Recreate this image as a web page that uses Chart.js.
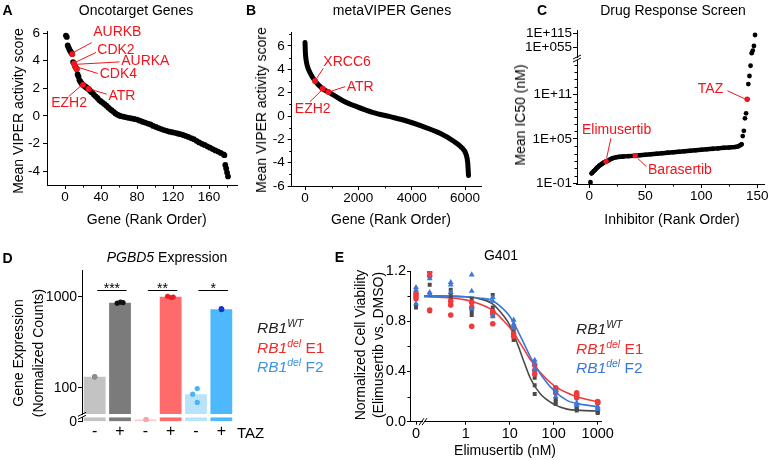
<!DOCTYPE html>
<html><head><meta charset="utf-8">
<script src="https://cdn.jsdelivr.net/npm/chart.js"></script>
<style>
html,body{margin:0;padding:0;background:#fff;}
#wrap{position:relative;width:768px;height:460px;overflow:hidden;font-family:'Liberation Sans',Arial,sans-serif;color:#000;background:#fff;}
canvas{position:absolute;left:0;top:0;}
.t{position:absolute;white-space:nowrap;font-size:14px;line-height:1;}
.c{transform:translate(-50%,-50%);}
.v{transform:translate(-50%,-50%) rotate(-90deg);}
.p{font-weight:bold;font-size:14px;}
.leg{position:absolute;font-size:15.5px;line-height:1;white-space:nowrap;}
.leg sup{font-size:10.5px;vertical-align:0;position:relative;top:-6px;}
</style></head><body><div id="wrap">
<canvas id="cA" width="768" height="460"></canvas>
<canvas id="cB" width="768" height="460"></canvas>
<canvas id="cC" width="768" height="460"></canvas>
<canvas id="cD" width="768" height="460"></canvas>
<canvas id="cE" width="768" height="460"></canvas>

<div class="t c p" style="left:7.5px;top:10px">A</div>
<div class="t c p" style="left:251px;top:10px">B</div>
<div class="t c p" style="left:542px;top:10px">C</div>
<div class="t c p" style="left:7.5px;top:258px">D</div>
<div class="t c p" style="left:339.5px;top:257px">E</div>

<div class="t c" style="left:136px;top:9.5px">Oncotarget Genes</div>
<div class="t c" style="left:392px;top:9.5px">metaVIPER Genes</div>
<div class="t c" style="left:673px;top:9.5px">Drug Response Screen</div>
<div class="t c" style="left:167px;top:257px"><i>PGBD5</i> Expression</div>
<div class="t c" style="left:501px;top:255px">G401</div>

<div class="t c" style="left:146.7px;top:219px">Gene (Rank Order)</div>
<div class="t c" style="left:391px;top:219px">Gene (Rank Order)</div>
<div class="t c" style="left:672px;top:219px">Inhibitor (Rank Order)</div>
<div class="t c" style="left:505px;top:450px">Elimusertib (nM)</div>
<div class="t c" style="left:250.5px;top:432px;font-size:15px">TAZ</div>

<div class="t v" style="left:18.3px;top:111px">Mean VIPER activity score</div>
<div class="t v" style="left:261px;top:110px">Mean VIPER activity score</div>
<div class="t v" style="left:520px;top:115px">Mean IC50 (nM)</div>
<div class="t v" style="left:18.3px;top:353px">Gene Expression</div>
<div class="t v" style="left:38.3px;top:353px">(Normalized Counts)</div>
<div class="t v" style="left:360px;top:345px">Normalized Cell Viability</div>
<div class="t v" style="left:378.3px;top:345px">(Elimusertib vs. DMSO)</div>

<div class="leg" style="left:257px;top:320px;color:#222"><i>RB1</i><sup><i>WT</i></sup></div>
<div class="leg" style="left:257px;top:340px;color:#ee2b2b"><i>RB1</i><sup><i>del</i></sup> E1</div>
<div class="leg" style="left:257px;top:359px;color:#3a95e4"><i>RB1</i><sup><i>del</i></sup> F2</div>

<div class="leg" style="left:576px;top:321px;color:#222"><i>RB1</i><sup><i>WT</i></sup></div>
<div class="leg" style="left:576px;top:341px;color:#ee2b2b"><i>RB1</i><sup><i>del</i></sup> E1</div>
<div class="leg" style="left:576px;top:360px;color:#3b78d8"><i>RB1</i><sup><i>del</i></sup> F2</div>
</div>
<script>
// ================= DATA =================
// Panel A: Oncotarget genes, [rank, mean VIPER score]
const aPoints = [[1,5.82],[2,5.72],[3,5.1],[4,4.95],[5,4.8],[6,4.68],[7,4.58],[8,4.48],[9,3.9],[10,3.8],[11,3.62],[12,3.5],[13,3.4],[14,3.0],[15,2.85],[16,2.6],[17,2.5],[18,2.4],[19,2.3],[20,2.25],[21,2.2],[22,2.15],[23,2.1],[24,2.05],[25,2.0],[26,1.95],[27,1.9],[28,1.82],[29,1.76],[30,1.7],[32,1.55],[34,1.42],[36,1.3],[38,1.15],[40,1.05],[42,0.95],[44,0.85],[46,0.74],[48,0.62],[50,0.5],[52,0.4],[54,0.3],[56,0.18],[58,0.1],[60,0.04],[62,-0.02],[65,-0.06],[68,-0.1],[71,-0.14],[74,-0.18],[77,-0.22],[80,-0.26],[83,-0.34],[86,-0.42],[89,-0.48],[92,-0.55],[95,-0.62],[98,-0.72],[101,-0.8],[104,-0.88],[107,-0.95],[110,-1.02],[113,-1.08],[116,-1.14],[119,-1.18],[122,-1.22],[125,-1.27],[128,-1.32],[131,-1.38],[134,-1.45],[137,-1.52],[140,-1.6],[143,-1.68],[146,-1.8],[149,-1.92],[152,-2.02],[155,-2.1],[158,-2.2],[161,-2.3],[164,-2.4],[167,-2.5],[170,-2.58],[173,-2.68],[176,-2.78],[177,-2.84],[178,-3.55],[179,-3.8],[180,-4.1],[181,-4.38]];
const aHighlight = ['AURKB','CDK2','AURKA','CDK4','EZH2','ATR'];
const aHighlightRank = [8,10,11,13,20,26];
const aHighlightScore = [4.48,3.8,3.62,3.4,2.25,1.95];
const aXTicks = [0,40,80,120,160];
const aYTicks = [-4,-2,0,2,4,6];

// Panel B: metaVIPER genes, [rank, mean VIPER score]
const bPoints = [[0,6.3],[10,5.6],[20,5.2],[40,4.8],[87,4.28],[187,3.71],[375,3.0],[662,2.34],[875,2.06],[1437,1.29],[1937,0.8],[2562,0.29],[3187,-0.06],[3812,-0.43],[4437,-0.91],[5062,-1.48],[5562,-2.14],[5875,-2.71],[6037,-3.28],[6100,-4.0],[6125,-4.9],[6130,-5.1]];
const bHighlight = ['XRCC6','EZH2','ATR'];
const bHighlightRank = [375,662,875];
const bHighlightScore = [3.0,2.34,2.06];
const bXTicks = [0,2000,4000,6000];
const bYTicks = [-6,-4,-2,0,2,4,6];

// Panel C: drug response screen, [rank, mean IC50 nM]
const cBand = [[2,2.2],[3,3],[4,4.5],[5,6],[6,9],[7,13],[8,17],[9,25],[10,30],[11,40],[12,50],[13,65],[14,75],[15,85],[17,120],[19,180],[21,250],[24,320],[27,370],[30,400],[35,460],[41,530],[45,600],[50,700],[55,820],[60,980],[65,1150],[70,1350],[75,1550],[80,1800],[85,2100],[90,2450],[95,2850],[100,3300],[105,3800],[110,4400],[115,5100],[120,6000],[125,6800],[130,8000],[133,9500],[135,14000],[136,18000]];
const cOutliers = [[1,0.14],[137,2.3e5],[138,1.2e6],[139,5.8e7],[140,2.7e8],[141,2.1e10],[142,2.4e12],[143,2.9e13],[144,7e14],[145,1e32],[146,1e43],[147,1e62],[148,1e108]];
const cHighlight = ['Elimusertib','Barasertib','TAZ'];
const cHighlightRank = [15,41,141];
const cHighlightIC50 = [85,530,2.1e10];
const cXTicks = [0,50,100,150];
const cLoTicks = [1e-1,1e5,1e11];
const cLoLabels = ['1E-01','1E+05','1E+11'];
const cHiTicks = [1e55,1e115];
const cHiLabels = ['1E+055','1E+115'];
const cLoMinor = [1,10,100,1e3,1e4,1e6,1e7,1e8,1e9,1e10,1e12,1e13,1e14,1e15];

// Panel D: PGBD5 expression
const dLabels = ['-','+','-','+','-','+'];
const dMeans = [132,860,5,1000,85,727];
const dReps = [[133,131,132],[850,872,862],[5,5,5],[1012,978,990],[98,85,69],[738,722,728]];
const dSig = ['***','**','*'];
const dHiTicks = [100,1000];

// Panel E: G401 viability vs elimusertib (nM); index 0 = DMSO (0 nM)
const eDoses = [0,0.152,0.457,1.37,4.12,12.3,37,111,333,1000];
const eWT = [[1.03,0.93,0.91],[1.09,1.01,0.88],[1.05,1.02,0.99],[0.98,0.88,0.85],[1.01,0.91,0.84],[0.72,0.70,0.65],[0.35,0.29,0.22],[0.18,0.16,0.14],[0.11,0.10,0.09],[0.09,0.08,0.07]];
const eE1 = [[1.02,1.0,0.98],[1.19,1.16,0.89],[0.96,0.93,0.85],[0.95,0.91,0.76],[0.88,0.86,0.78],[0.75,0.70,0.68],[0.45,0.41,0.38],[0.27,0.25,0.23],[0.23,0.21,0.19],[0.16,0.15,0.15]];
const eF2 = [[1.07,1.05,0.94],[1.14,1.03,1.01],[1.11,1.09,1.03],[1.17,1.04,0.90],[0.99,0.96,0.84],[0.81,0.78,0.75],[0.49,0.47,0.42],[0.25,0.23,0.20],[0.15,0.14,0.13],[0.12,0.11,0.10]];
const eFitDoses = [0.113,0.3,1,2,4,7,10,15,20,30,50,100,200,400,1000];
const eFitWT = [1.0,1.0,0.995,0.98,0.94,0.85,0.77,0.62,0.50,0.34,0.22,0.14,0.10,0.09,0.085];
const eFitE1 = [0.995,0.99,0.97,0.94,0.89,0.81,0.75,0.66,0.59,0.49,0.39,0.29,0.23,0.19,0.16];
const eFitF2 = [1.0,1.0,0.995,0.985,0.965,0.90,0.84,0.73,0.64,0.51,0.38,0.25,0.17,0.14,0.12];
const eXTicks = [1,10,100,1000];
const eYTicks = [0,0.4,0.8,1.2];
const eYLabels = ['0.0','0.4','0.8','1.2'];

// ================= STYLE / LAYOUT =================
const RED = '#f2141c';
const W = 768, H = 460;
Chart.defaults.font.family = "'Liberation Sans', Arial, Helvetica, sans-serif";
Chart.defaults.font.size = 13.5;
Chart.defaults.color = '#000';
Chart.defaults.animation = false;
Chart.defaults.responsive = false;
Chart.defaults.events = [];
Chart.defaults.plugins.legend.display = false;
Chart.defaults.plugins.tooltip.enabled = false;

function pad(L, T, R, B, yw, xh) { return {left: L - yw, top: T, right: W - R, bottom: H - B - xh}; }

function ax(o) {
  const vals = o.ticks, labs = o.labels;
  const cfg = {
    type: o.type || 'linear', position: o.pos, min: o.min, max: o.max, bounds: 'data', offset: false,
    display: !o.hidden,
    border: {display: o.border !== false, color: '#000', width: 1},
    grid: {display: true, drawOnChartArea: false, drawTicks: o.tl !== 0, tickLength: o.tl || 0, color: '#000', tickColor: '#000', tickWidth: 1, offset: false},
    ticks: {autoSkip: false, maxRotation: 0, minRotation: 0, padding: o.pad || 0, color: '#000',
      font: {size: o.fs || 13.5}, callback: function (v, i) { return labs ? labs[i] : String(v); }},
    afterBuildTicks: s => { if (vals) s.ticks = vals.map(v => ({value: v})); },
    afterFit: s => {
      if (o.size != null) { if (s.isHorizontal()) s.height = o.size; else s.width = o.size; }
      s.paddingLeft = s.paddingRight = s.paddingTop = s.paddingBottom = 0;
    }
  };
  if (o.type === 'category') { delete cfg.min; delete cfg.max; cfg.grid.display = false; cfg.offset = true; }
  if (o.stack) { cfg.stack = o.stack; cfg.stackWeight = o.sw; cfg.weight = o.w; }
  return cfg;
}

const axisClip = {
  id: 'axisClip',
  beforeDatasetDraw(chart, args) {
    const ds = chart.data.datasets[args.index];
    if (ds.axisClip == null) return;
    const m = args.meta, p = ds.axisClip, ctx = chart.ctx;
    ctx.save(); ctx.beginPath();
    ctx.rect(m.xScale.left - p, m.yScale.top - p, m.xScale.right - m.xScale.left + 2 * p, m.yScale.bottom - m.yScale.top + 2 * p);
    ctx.clip();
  },
  afterDatasetDraw(chart, args) {
    const ds = chart.data.datasets[args.index];
    if (ds.axisClip == null) return;
    chart.ctx.restore();
  }
};

const decor = {
  id: 'decor',
  afterDraw(chart, args, o) {
    const ctx = chart.ctx;
    ctx.save();
    ctx.lineWidth = 1; ctx.strokeStyle = '#000';
    (o.minor || []).forEach(m => {
      const s = chart.scales[m.axis]; const len = m.len || 2.5;
      m.values.forEach(v => {
        const p = Math.round(s.getPixelForValue(v)) + 0.5;
        ctx.beginPath();
        if (s.isHorizontal()) { ctx.moveTo(p, s.top); ctx.lineTo(p, s.top + len); }
        else { ctx.moveTo(s.right - len, p); ctx.lineTo(s.right, p); }
        ctx.stroke();
      });
    });
    (o.breaks || []).forEach(b => {
      const a = chart.scales[b.a], c = chart.scales[b.b];
      if (a.isHorizontal()) {
        const xm = (a.right + c.left) / 2, y = a.top;
        [-1.5, 1.5].forEach(d => { ctx.beginPath(); ctx.moveTo(xm + d - 2.5, y + 3.5); ctx.lineTo(xm + d + 2.5, y - 3.5); ctx.stroke(); });
      } else {
        const ym = (a.bottom + c.top) / 2, x = a.right;
        [-1.5, 1.5].forEach(d => { ctx.beginPath(); ctx.moveTo(x - 4, ym + d + 2); ctx.lineTo(x + 4, ym + d - 2); ctx.stroke(); });
      }
    });
    (o.notes || []).forEach(n => {
      const xs = chart.scales[n.xAxis], ys = chart.scales[n.yAxis];
      const px = xs.getPixelForValue(n.at[0]), py = ys.getPixelForValue(n.at[1]);
      ctx.strokeStyle = RED; ctx.fillStyle = RED;
      ctx.beginPath(); ctx.moveTo(px + n.l1[0], py + n.l1[1]); ctx.lineTo(px + n.l2[0], py + n.l2[1]); ctx.stroke();
      ctx.font = "14px 'Liberation Sans', Arial, sans-serif";
      ctx.textAlign = n.align; ctx.textBaseline = 'middle';
      ctx.fillText(n.text, px + n.t[0], py + n.t[1]);
    });
    (o.brackets || []).forEach(b => {
      const xs = chart.scales[b.xAxis], ys = chart.scales[b.yAxis];
      const x1 = xs.getPixelForValue(b.from + b.dx1), x2 = xs.getPixelForValue(b.to + b.dx2);
      const y = Math.round(ys.getPixelForValue(b.y)) + 0.5;
      ctx.strokeStyle = '#000'; ctx.fillStyle = '#000';
      ctx.beginPath(); ctx.moveTo(x1, y); ctx.lineTo(x2, y); ctx.stroke();
      ctx.font = "14px 'Liberation Sans', Arial, sans-serif";
      ctx.textAlign = 'center'; ctx.textBaseline = 'alphabetic';
      ctx.fillText(b.text, (x1 + x2) / 2, y + 2);
    });
    ctx.restore();
  }
};

function notes(names, xs, ys, offs, xAxis, yAxis) {
  return names.map((t, i) => Object.assign({text: t, at: [xs[i], ys[i]], xAxis, yAxis}, offs[i]));
}
const pts = arr => arr.map(p => ({x: p[0], y: p[1]}));

// ---------------- Panel A ----------------
new Chart(document.getElementById('cA'), {
  type: 'scatter',
  data: {datasets: [
    {data: aHighlightRank.map((r, i) => ({x: r, y: aHighlightScore[i]})), pointRadius: 2.9, pointBackgroundColor: RED, pointBorderWidth: 0},
    {data: pts(aPoints), pointRadius: 2.9, pointBackgroundColor: '#000', pointBorderWidth: 0}
  ]},
  options: {
    layout: {padding: pad(47, 31, 237, 185, 40, 25)},
    scales: {
      x: ax({pos: 'bottom', min: -20, max: 191, ticks: aXTicks, size: 25, tl: 4, pad: 0}),
      y: ax({pos: 'left', min: -5, max: 6.15, ticks: aYTicks, size: 40, tl: 4, pad: 3})
    },
    plugins: {decor: {
      minor: [{axis: 'x', values: [20, 60, 100, 140, 180]}],
      notes: notes(aHighlight, aHighlightRank, aHighlightScore, [
        {l1: [1, -1.5], l2: [19.5, -11.5], t: [21, -21.5], align: 'left'},
        {l1: [2, -1.5], l2: [22, -11], t: [23.3, -13.6], align: 'left'},
        {l1: [2.3, -1.7], l2: [44.6, -4], t: [46.3, -5], align: 'left'},
        {l1: [2, -1.5], l2: [21, 4.5], t: [23, 5.2], align: 'left'},
        {l1: [-2, 1], l2: [-14.4, 11.7], t: [-14, 18.4], align: 'center'},
        {l1: [1.6, 0.2], l2: [18.3, 5.2], t: [20, 7.5], align: 'left'}
      ], 'x', 'y')
    }}
  },
  plugins: [decor, axisClip]
});

// ---------------- Panel B ----------------
new Chart(document.getElementById('cB'), {
  type: 'scatter',
  data: {datasets: [
    {data: bHighlightRank.map((r, i) => ({x: r, y: bHighlightScore[i]})), pointRadius: 3, pointBackgroundColor: RED, pointBorderWidth: 0},
    {data: pts(bPoints), showLine: true, borderColor: '#000', borderWidth: 5, pointRadius: 0,
     cubicInterpolationMode: 'monotone', borderCapStyle: 'round', borderJoinStyle: 'round'}
  ]},
  options: {
    layout: {padding: pad(291.7, 32, 481.7, 186, 60, 25)},
    scales: {
      x: ax({pos: 'bottom', min: -500, max: 6625, ticks: bXTicks, size: 25, tl: 4, pad: 0}),
      y: ax({pos: 'left', min: -6, max: 7.2, ticks: bYTicks, size: 60, tl: 4, pad: 3})
    },
    plugins: {decor: {
      minor: [{axis: 'x', values: [1000, 3000, 5000]}, {axis: 'y', values: [-5, -3, -1, 1, 3, 5, 7]}],
      notes: notes(bHighlight, bHighlightRank, bHighlightScore, [
        {l1: [1.5, -2.5], l2: [8.3, -12.7], t: [8.3, -19.3], align: 'left'},
        {l1: [-1.5, 2], l2: [-12.7, 13], t: [-10, 20.6], align: 'center'},
        {l1: [2, -0.5], l2: [16.7, -5.3], t: [18.4, -5.3], align: 'left'}
      ], 'x', 'y')
    }}
  },
  plugins: [decor, axisClip]
});

// ---------------- Panel C ----------------
const C_BREAK = 1e16;
new Chart(document.getElementById('cC'), {
  type: 'scatter',
  data: {datasets: [
    {data: cHighlightRank.map((r, i) => ({x: r, y: cHighlightIC50[i]})), yAxisID: 'yLo', pointRadius: 2.7, pointBackgroundColor: RED, pointBorderWidth: 0},
    {data: pts(cOutliers.filter(p => p[1] < C_BREAK)), yAxisID: 'yLo', pointRadius: 2.4, pointBackgroundColor: '#000', pointBorderWidth: 0, axisClip: 3},
    {data: pts(cOutliers.filter(p => p[1] >= C_BREAK)), yAxisID: 'yHi', pointRadius: 2.4, pointBackgroundColor: '#000', pointBorderWidth: 0, axisClip: 3},
    {data: pts(cBand), yAxisID: 'yLo', showLine: true, borderColor: '#000', borderWidth: 4.5, pointRadius: 2.3,
     pointBackgroundColor: '#000', pointBorderWidth: 0, borderJoinStyle: 'round', borderCapStyle: 'round'}
  ]},
  options: {
    layout: {padding: pad(577, 30.5, 765, 184, 80, 25)},
    scales: {
      x: ax({pos: 'bottom', min: -11, max: 156, ticks: cXTicks, size: 25, tl: 4, pad: 0}),
      yHi: ax({type: 'logarithmic', pos: 'left', min: 1.78e16, max: 5e126, ticks: cHiTicks, labels: cHiLabels, size: 80, tl: 4, pad: 1, stack: 'c', sw: 26.5, w: 3}),
      yg: ax({pos: 'left', hidden: true, stack: 'c', sw: 3, w: 2}),
      yLo: ax({type: 'logarithmic', pos: 'left', min: 0.0805, max: 4.17e15, ticks: cLoTicks, labels: cLoLabels, size: 80, tl: 4, pad: 1, stack: 'c', sw: 124, w: 1})
    },
    plugins: {decor: {
      minor: [{axis: 'x', values: [25, 75, 125]}, {axis: 'yLo', values: cLoMinor}],
      breaks: [{a: 'yHi', b: 'yLo'}],
      notes: notes(cHighlight, cHighlightRank, cHighlightIC50, [
        {l1: [0.5, -3.6], l2: [4.8, -23.3], t: [10.5, -31.6], align: 'center'},
        {l1: [2.5, 2.8], l2: [11.2, 11], t: [12.8, 14.3], align: 'left'},
        {l1: [-2.5, -0.5], l2: [-19.8, -8.6], t: [-24, -10.3], align: 'right'}
      ], 'x', 'yLo')
    }}
  },
  plugins: [decor, axisClip]
});

// ---------------- Panel D ----------------
const dBarColors = ['#c3c3c3', '#7b7b7b', '#fbcaca', '#ff6b6b', '#b9e2fb', '#4db9fc'];
const dDotColors = ['#8c8c8c', '#111111', '#f7a6a6', '#e81f28', '#4ab4f2', '#1436c8'];
const dJitter = [[0, 0, 0], [-0.11, 0.02, 0.12], [0.03, 0.03, 0.03], [-0.12, 0.02, 0.1], [0.05, -0.13, 0.05], [0, 0, 0.02]];
const dDots = [], dDotCol = [];
dReps.forEach((reps, i) => reps.forEach((v, j) => { dDots.push({x: i + dJitter[i][j], y: v}); dDotCol.push(dDotColors[i]); }));
const dBarBase = {type: 'bar', data: dMeans, backgroundColor: dBarColors, borderWidth: 0, grouped: false, barPercentage: 0.86, categoryPercentage: 1, axisClip: 0};
new Chart(document.getElementById('cD'), {
  type: 'bar',
  data: {labels: dLabels, datasets: [
    {type: 'scatter', data: dDots, xAxisID: 'xd', yAxisID: 'yTop', pointRadius: 2.6, pointBackgroundColor: dDotCol, pointBorderWidth: 0, axisClip: 2},
    {type: 'scatter', data: dDots, xAxisID: 'xd', yAxisID: 'yBot', pointRadius: 2.6, pointBackgroundColor: dDotCol, pointBorderWidth: 0, axisClip: 2},
    Object.assign({yAxisID: 'yTop', xAxisID: 'x'}, dBarBase),
    Object.assign({yAxisID: 'yBot', xAxisID: 'x'}, dBarBase)
  ]},
  options: {
    layout: {padding: pad(82, 270, 234, 421.7, 70, 25)},
    scales: {
      x: ax({type: 'category', pos: 'bottom', labels: dLabels, size: 25, tl: 0, pad: 0, fs: 16, border: false}),
      xd: ax({pos: 'bottom', min: -0.5, max: 5.5, hidden: true}),
      yTop: ax({type: 'logarithmic', pos: 'left', min: 51.1, max: 1965, ticks: dHiTicks, labels: ['100', '1000'], size: 70, tl: 4, pad: 1, fs: 14, stack: 'd', sw: 144.3, w: 3}),
      yg: ax({pos: 'left', hidden: true, stack: 'd', sw: 3, w: 2}),
      yBot: ax({pos: 'left', min: 0, max: 10, ticks: [0], labels: ['0'], size: 70, tl: 4, pad: 1, fs: 14, stack: 'd', sw: 4.4, w: 1})
    },
    plugins: {decor: {
      breaks: [{a: 'yTop', b: 'yBot'}],
      brackets: dSig.map((s, k) => ({text: s, from: 2 * k, to: 2 * k + 1, dx1: 0.1, dx2: 0.26, y: 1185, xAxis: 'xd', yAxis: 'yTop'}))
    }}
  },
  plugins: [decor, axisClip]
});

// ---------------- Panel E ----------------
function repPoints(series, zero) {
  const out = [];
  eDoses.forEach((d, i) => { if ((d === 0) === zero) series[i].forEach(v => out.push({x: d, y: v})); });
  return out;
}
const eStyles = [
  {s: eF2, fit: eFitF2, c: '#3b78d8', shape: 'triangle', r: 3.4},
  {s: eE1, fit: eFitE1, c: '#ef3b3b', shape: 'circle', r: 2.8},
  {s: eWT, fit: eFitWT, c: '#4a4a4a', shape: 'rect', r: 2.8}
];
const eSets = [];
eStyles.forEach(st => {
  eSets.push({data: repPoints(st.s, false), xAxisID: 'x', pointStyle: st.shape, pointRadius: st.r, pointBackgroundColor: st.c, pointBorderWidth: 0});
  eSets.push({data: repPoints(st.s, true), xAxisID: 'x0', pointStyle: st.shape, pointRadius: st.r, pointBackgroundColor: st.c, pointBorderWidth: 0});
});
eStyles.forEach(st => {
  eSets.push({data: eFitDoses.map((d, i) => ({x: d, y: st.fit[i]})), xAxisID: 'x', showLine: true, borderColor: st.c, borderWidth: 1.6, pointRadius: 0, cubicInterpolationMode: 'monotone'});
});
new Chart(document.getElementById('cE'), {
  type: 'scatter',
  data: {datasets: eSets},
  options: {
    layout: {padding: pad(410, 271, 601, 421.7, 60, 25)},
    scales: {
      y: ax({pos: 'left', min: 0, max: 1.2, ticks: eYTicks, labels: eYLabels, size: 60, tl: 3, pad: 1, fs: 14.5}),
      x0: ax({pos: 'bottom', min: -1, max: 1, ticks: [0], labels: ['0'], size: 25, tl: 3, pad: 1, fs: 14.5, stack: 'e', sw: 12, w: 1}),
      xg: ax({pos: 'bottom', hidden: true, stack: 'e', sw: 2, w: 2}),
      x: ax({type: 'logarithmic', pos: 'bottom', min: 0.1128, max: 1189, ticks: eXTicks, labels: ['1', '10', '100', '1000'], size: 25, tl: 3, pad: 1, fs: 14.5, stack: 'e', sw: 177, w: 3})
    },
    plugins: {decor: {
      minor: [{axis: 'y', values: [0.2, 0.6, 1.0]}],
      breaks: [{a: 'x0', b: 'x'}]
    }}
  },
  plugins: [decor, axisClip]
});
</script>
</body></html>
